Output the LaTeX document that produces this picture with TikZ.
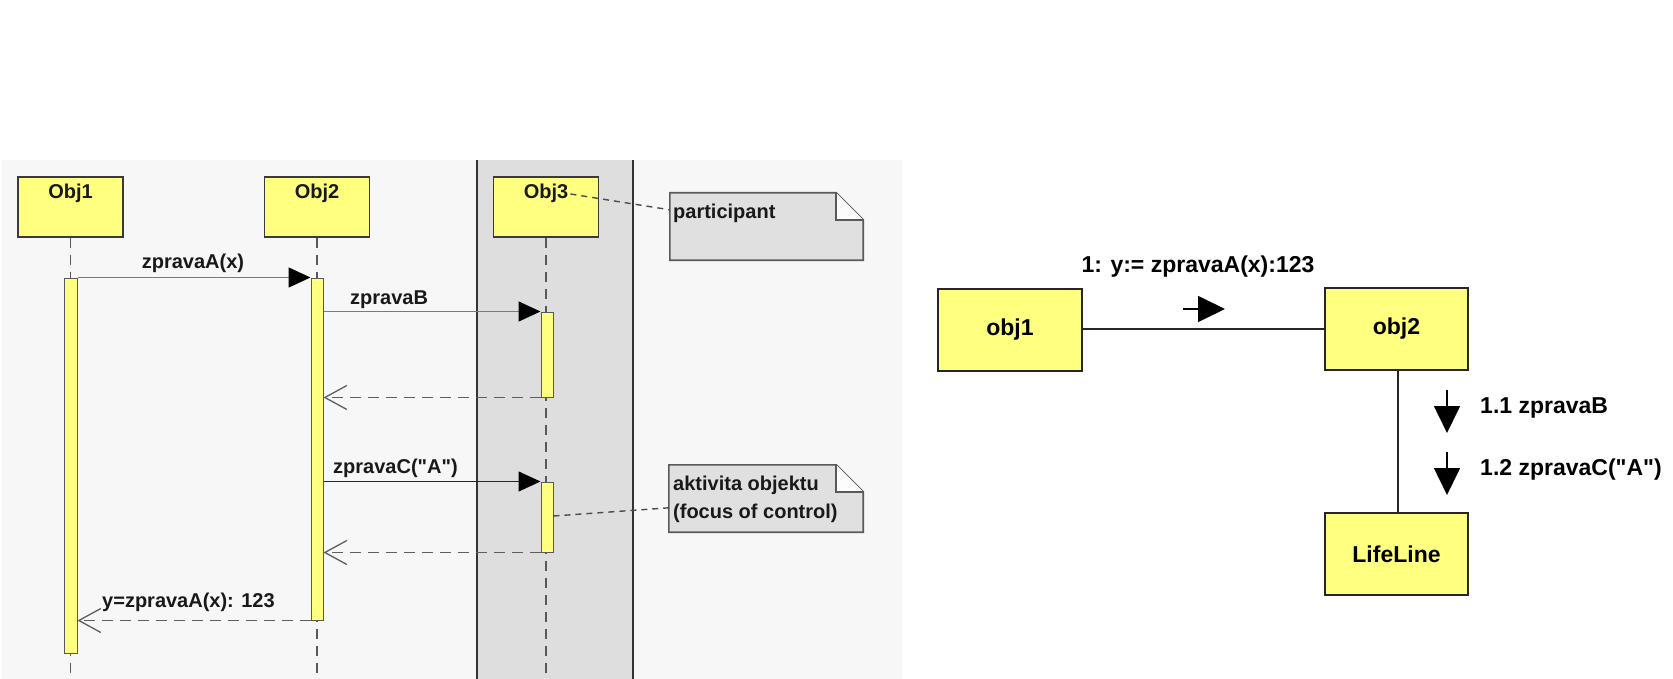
\documentclass[tikz,border=0pt]{standalone}
\usepackage{fontspec}
\setmainfont{Liberation Sans}[Ligatures=TeXOff]
\usetikzlibrary{arrows.meta}
\definecolor{boxyellow}{HTML}{FFFF80}
\definecolor{panelgray}{HTML}{F7F7F7}
\definecolor{bandgray}{HTML}{DEDEDE}
\definecolor{notegray}{HTML}{E0E0E0}
\definecolor{edgegray}{HTML}{3A3A3A}
\definecolor{msggray}{HTML}{7A7A7A}
\definecolor{retgray}{HTML}{5E5E5E}
\begin{document}
\begin{tikzpicture}[x=1pt,y=-1pt,
  lefttext/.style={font=\fontsize{20}{24}\selectfont\bfseries, text=black!90, inner sep=0pt},
  righttext/.style={font=\fontsize{23}{27}\selectfont\bfseries, text=black, inner sep=0pt},
  objbox/.style={draw=edgegray, line width=1.6pt, fill=boxyellow, inner sep=0pt, minimum width=105pt, minimum height=60pt},
  colbox/.style={draw=black!85, line width=1.8pt, fill=boxyellow, inner sep=0pt, minimum width=143pt, minimum height=82pt},
  actbar/.style={draw=black!65, line width=1pt, fill=boxyellow, inner sep=0pt, minimum width=12pt},
  lifeline/.style={draw=black!65, line width=1.3pt, dash pattern=on 10pt off 7pt},
  msgline/.style={draw=msggray, line width=1.4pt, -{Triangle[length=22pt,width=20pt,color=black]}},
  retline/.style={draw=retgray, line width=1.3pt, dash pattern=on 11pt off 7pt, -{Straight Barb[length=22pt,width=24pt,line width=1.3pt]}},
  notelink/.style={draw=black!70, line width=1.4pt, dash pattern=on 6pt off 5pt},
  noteshape/.style={draw=black!65, line width=1.6pt, fill=notegray},
  bandline/.style={draw=black!80, line width=2pt},
  assoc/.style={draw=black!85, line width=1.8pt},
  dirarrow/.style={draw=black, line width=1.6pt, -{Triangle[length=27pt,width=26pt]}}
]
\useasboundingbox (0,0) rectangle (1673,679);
\fill[white] (0,0) rectangle (1673,679);
% left panel
\fill[panelgray] (2,160) rectangle (902,679);
\fill[bandgray] (477,160) rectangle (633,679);
\draw[bandline] (477,160) -- (477,679);
\draw[bandline] (633,160) -- (633,679);

% participants
\node[objbox] (ob1) at (70.5,207) {};
\node[objbox] (ob2) at (317,207) {};
\node[objbox] (ob3) at (546,207) {};
\node[lefttext] (ob1t) at (70.5,193) {Obj1};
\node[lefttext] (ob2t) at (317,193) {Obj2};
\node[lefttext] (ob3t) at (546,193) {Obj3};

% lifeline ends
\coordinate (le1) at (70.5,679);
\coordinate (le2) at (317,679);
\coordinate (le3) at (546,679);
\draw[lifeline] (ob1.south) -- (le1);
\draw[lifeline] (ob2.south) -- (le2);
\draw[lifeline] (ob3.south) -- (le3);

% activation bars
\node[actbar, minimum width=13pt, minimum height=375pt] (b1) at (70.5,465.5) {};
\node[actbar, minimum height=342pt] (b2) at (317,449) {};
\node[actbar, minimum height=85pt] (b3a) at (547,354.5) {};
\node[actbar, minimum height=70pt] (b3b) at (547,517) {};

% messages
\draw[msgline] (b1.north east) -- (b2.north west);
\node[lefttext] (mA) at (193,263) {zpravaA(x)};
\draw[msgline] (b2.east |- b3a.north) -- (b3a.north west);
\node[lefttext, anchor=west] (mB) at (350,300) {zpravaB};
\draw[retline] (b3a.south west) -- (b2.east |- b3a.south);
\draw[msgline, draw=black!85] (b2.east |- b3b.north) -- (b3b.north west);
\node[lefttext, anchor=west] (mC) at (333,468) {zpravaC("A")};
\draw[retline] (b3b.south west) -- (b2.east |- b3b.south);
\draw[retline] (b2.south west) -- (b1.east |- b2.south);
\node[lefttext, anchor=west] (mR) at (102,602) {y=zpravaA(x): 123};

% note 1
\node[minimum width=193pt, minimum height=67pt, inner sep=0pt] (n1) at (766.5,226.5) {};
\draw[noteshape] (n1.north west) -- ([xshift=-27pt]n1.north east) -- ([yshift=-27pt]n1.north east) -- (n1.south east) -- (n1.south west) -- cycle;
\draw[noteshape, fill=white!60!panelgray] ([xshift=-27pt]n1.north east) -- ([xshift=-27pt,yshift=-27pt]n1.north east) -- ([yshift=-27pt]n1.north east);
\node[lefttext, anchor=west] (n1t) at (673,213) {participant};
\draw[notelink] ([xshift=2pt,yshift=-1pt]ob3t.east) -- ([yshift=-17pt]n1.north west);

% note 2
\node[minimum width=194pt, minimum height=67pt, inner sep=0pt] (n2) at (766,498.5) {};
\draw[noteshape] (n2.north west) -- ([xshift=-27pt]n2.north east) -- ([yshift=-27pt]n2.north east) -- (n2.south east) -- (n2.south west) -- cycle;
\draw[noteshape, fill=white!60!panelgray] ([xshift=-27pt]n2.north east) -- ([xshift=-27pt,yshift=-27pt]n2.north east) -- ([yshift=-27pt]n2.north east);
\node[lefttext, anchor=west] (n2t1) at (673,485) {aktivita objektu};
\node[lefttext, anchor=west] (n2t2) at (673,513) {(focus of control)};
\draw[notelink] ([yshift=1pt]b3b.east) -- ([yshift=-43pt]n2.north west);

% collaboration diagram
\node[colbox, minimum width=144pt] (c1) at (1010,330) {};
\node[righttext] (c1t) at (1010,330) {obj1};
\node[colbox] (c2) at (1396.5,329) {};
\node[righttext] (c2t) at (1396.5,329) {obj2};
\node[colbox] (c3) at (1396.5,554) {};
\node[righttext] (c3t) at (1396.5,554) {LifeLine};
\draw[assoc] (c1.east |- c2.west) -- (c2.west);
\draw[assoc] (c2.south -| 1398,0) -- (c3.north -| 1398,0);

\node[righttext] (l1) at (1198,267) {1: y:= zpravaA(x):123};
\coordinate (a1s) at (1183,309);
\coordinate (a1e) at (1225,309);
\draw[dirarrow] (a1s) -- (a1e);

\coordinate (a2s) at (1447,390);
\coordinate (a2e) at (1447,433);
\draw[dirarrow] (a2s) -- (a2e);
\node[righttext, anchor=west] (l2) at (1480,408) {1.1 zpravaB};

\coordinate (a3s) at (1447,452);
\coordinate (a3e) at (1447,495);
\draw[dirarrow] (a3s) -- (a3e);
\node[righttext, anchor=west] (l3) at (1480,470) {1.2 zpravaC("A")};
\end{tikzpicture}
\end{document}
